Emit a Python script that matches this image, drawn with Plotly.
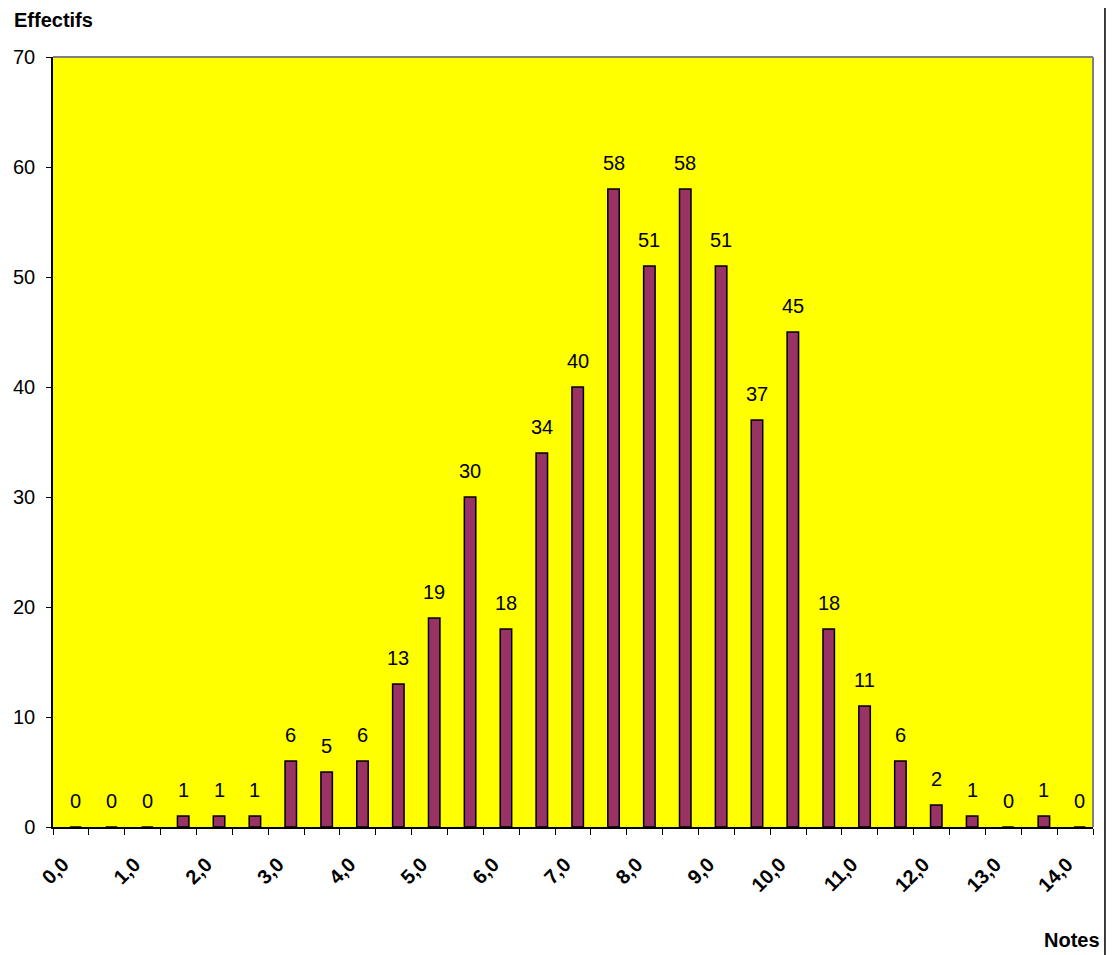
import plotly.graph_objects as go

categories = ["0,0", "0,5", "1,0", "1,5", "2,0", "2,5", "3,0", "3,5", "4,0", "4,5",
              "5,0", "5,5", "6,0", "6,5", "7,0", "7,5", "8,0", "8,5", "9,0", "9,5",
              "10,0", "10,5", "11,0", "11,5", "12,0", "12,5", "13,0", "13,5", "14,0"]
effectifs = [0, 0, 0, 1, 1, 1, 6, 5, 6, 13, 19, 30, 18, 34, 40, 58, 51, 58, 51, 37,
             45, 18, 11, 6, 2, 1, 0, 1, 0]
y_ticks = [0, 10, 20, 30, 40, 50, 60, 70]

xpos = list(range(len(categories)))
FONT = "Liberation Sans, Arial, sans-serif"

fig = go.Figure()
fig.add_trace(go.Bar(
    x=xpos, y=effectifs, width=0.32, offset=-0.03,
    marker=dict(color="#993366", line=dict(color="black", width=1.5)),
    hoverinfo="x+y",
))

for xi, v in zip(xpos, effectifs):
    fig.add_annotation(x=xi + 0.13, y=v, text=str(v), showarrow=False,
                       yanchor="bottom", yshift=13,
                       font=dict(family=FONT, size=20, color="black"))

fig.add_annotation(xref="paper", yref="paper", x=-0.0394, y=1.048, text="<b>Effectifs</b>",
                   showarrow=False, xanchor="left", yanchor="middle",
                   font=dict(family=FONT, size=20, color="black"))
fig.add_annotation(xref="paper", yref="paper", x=1.0085, y=-0.147, text="<b>Notes</b>",
                   showarrow=False, xanchor="right", yanchor="middle",
                   font=dict(family=FONT, size=20, color="black"))

# plot-area border (gray top/right) and chart right edge line
fig.add_shape(type="line", xref="paper", yref="paper", x0=0, x1=1, y0=1, y1=1,
              line=dict(color="#808080", width=2))
fig.add_shape(type="line", xref="paper", yref="paper", x0=1, x1=1, y0=0, y1=1,
              line=dict(color="#808080", width=2))
fig.add_shape(type="line", xref="paper", yref="paper", x0=1.0115, x1=1.0115, y0=-0.17, y1=1.08,
              line=dict(color="black", width=1.5))

fig.update_layout(
    width=1106, height=947,
    margin=dict(l=45, r=21, t=49, b=128, autoexpand=False),
    paper_bgcolor="white", plot_bgcolor="#FFFF00",
    showlegend=False,
    font=dict(family=FONT, color="black"),
    xaxis=dict(
        range=[-0.5, len(categories) - 0.5],
        tickvals=xpos[::2], ticktext=[f"<b>{c}</b>" for c in categories[::2]],
        tickangle=-45, ticks="", ticklen=0,
        tickfont=dict(family=FONT, size=20, color="black"),
        showline=True, linecolor="black", linewidth=1.5,
        showgrid=False, zeroline=False, automargin=False,
        minor=dict(tick0=-0.5, dtick=1, ticks="outside", ticklen=6, tickcolor="black", showgrid=False),
        ticklabelstandoff=16, ticklabelshift=-8,
    ),
    yaxis=dict(
        range=[0, 70], tickvals=y_ticks,
        ticks="outside", ticklen=5, tickcolor="black",
        tickfont=dict(family=FONT, size=20, color="black"),
        showline=True, linecolor="black", linewidth=1.5,
        showgrid=False, zeroline=False, automargin=False,
        ticklabelstandoff=7,
    ),
)

fig.write_html("out.html")
